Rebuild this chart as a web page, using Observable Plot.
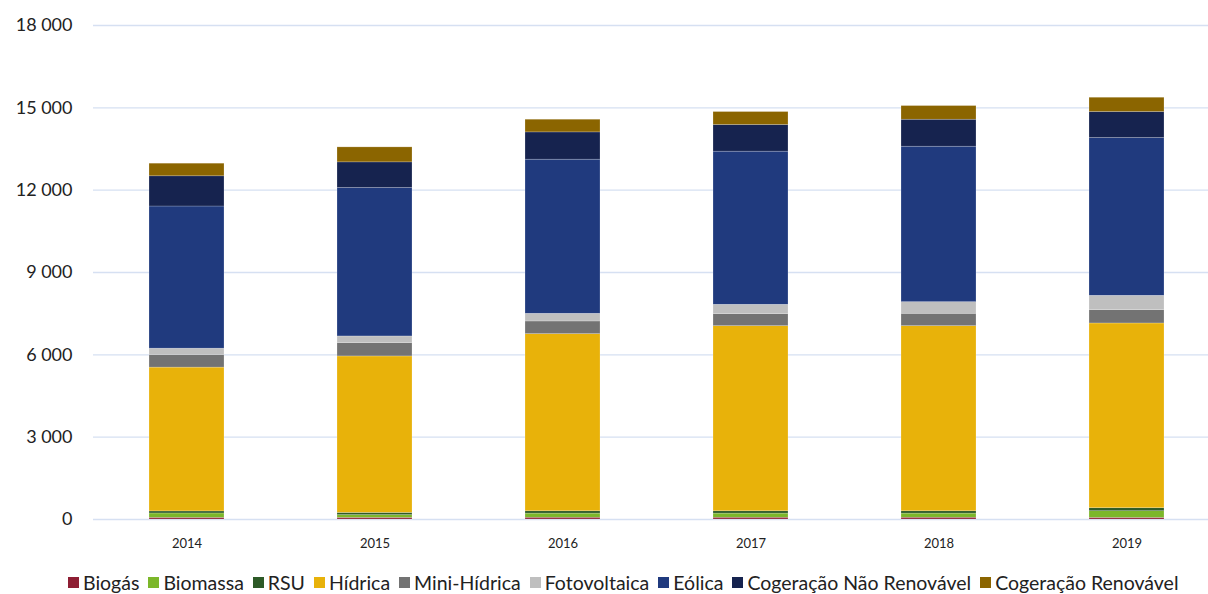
<!DOCTYPE html>
<html><head><meta charset="utf-8">
<script src="https://cdn.jsdelivr.net/npm/d3@7"></script>
<script src="https://cdn.jsdelivr.net/npm/@observablehq/plot@0.6"></script>
<style>
html,body{margin:0;padding:0;background:#fff;overflow:hidden;width:1208px;height:594px;}
#chart{position:absolute;left:0;top:0;}
#chart svg{max-width:none !important;}
#legend{position:absolute;left:68px;top:571px;display:flex;align-items:center;font-family:Lato,"Open Sans",sans-serif;font-size:19.5px;color:#222;white-space:nowrap;}
#legend .it{display:flex;align-items:center;margin-right:9px;}
#legend .sw{width:11px;height:11px;margin-right:4px;}
</style></head>
<body><div id="chart"></div><div id="legend"></div>
<script>
const years = ["2014","2015","2016","2017","2018","2019"];
const seriesNames = ["Biogás","Biomassa","RSU","Hídrica","Mini-Hídrica","Fotovoltaica","Eólica","Cogeração Não Renovável","Cogeração Renovável"];
const colors = ["#8e1e33","#7cb72a","#2d5a27","#e8b20a","#737373","#bfbfbf","#203a7e","#16234f","#8b6500"];
const biogas      = [60, 60, 65, 65, 65, 58];
const biomassa    = [160, 100, 150, 150, 150, 244];
const rsu         = [75, 80, 85, 85, 85, 109];
const hidrica     = [5240, 5702, 6454, 6745, 6745, 6732];
const miniHidrica = [460, 485, 462, 437, 451, 484];
const fotovoltaica= [230, 243, 280, 342, 423, 524];
const eolica      = [5180, 5411, 5615, 5579, 5665, 5750];
const cogNaoRenov = [1100, 932, 994, 971, 983, 946];
const cogRenov    = [460, 546, 462, 473, 498, 521];
const yTicks = [0, 3000, 6000, 9000, 12000, 15000, 18000];

const seriesValues = [biogas, biomassa, rsu, hidrica, miniHidrica, fotovoltaica, eolica, cogNaoRenov, cogRenov];
const data = [];
years.forEach((yr, i) => seriesNames.forEach((s, j) => data.push({year: yr, series: s, value: seriesValues[j][i]})));

const fmt = d => d3.format(",")(d).replace(/,/g, " ");

const chart = Plot.plot({
  width: 1222, height: 566,
  marginLeft: 93, marginRight: 1, marginTop: 25, marginBottom: 47,
  style: {fontFamily: "Lato, 'Open Sans', sans-serif", background: "#fff", color: "#222", maxWidth: "none"},
  x: {domain: years, range: [93, 1221], paddingInner: 0.6, paddingOuter: 0.3, label: null, tickSize: 0, tickPadding: 19},
  y: {domain: [0, 18000], ticks: yTicks, label: null, tickSize: 0, tickPadding: 21, tickFormat: fmt},
  color: {domain: seriesNames, range: colors},
  marks: [
    Plot.gridY(yTicks, {stroke: "#d6e0f2", strokeOpacity: 1, strokeWidth: 1.3}),
    Plot.barY(data, Plot.stackY({order: seriesNames}, {x: "year", y: "value", fill: "series", stroke: "#fff", strokeOpacity: 0.35, strokeWidth: 0.6})),
    Plot.axisX({fontSize: 13, tickSize: 0, tickPadding: 19}),
    Plot.axisY({ticks: yTicks, fontSize: 18, tickSize: 0, tickPadding: 21, tickFormat: fmt})
  ]
});
document.getElementById("chart").appendChild(chart);

const lg = document.getElementById("legend");
seriesNames.forEach((s, j) => {
  const it = document.createElement("div"); it.className = "it";
  const sw = document.createElement("div"); sw.className = "sw"; sw.style.background = colors[j];
  const t = document.createElement("span"); t.textContent = s;
  it.appendChild(sw); it.appendChild(t); lg.appendChild(it);
});
</script></body></html>
